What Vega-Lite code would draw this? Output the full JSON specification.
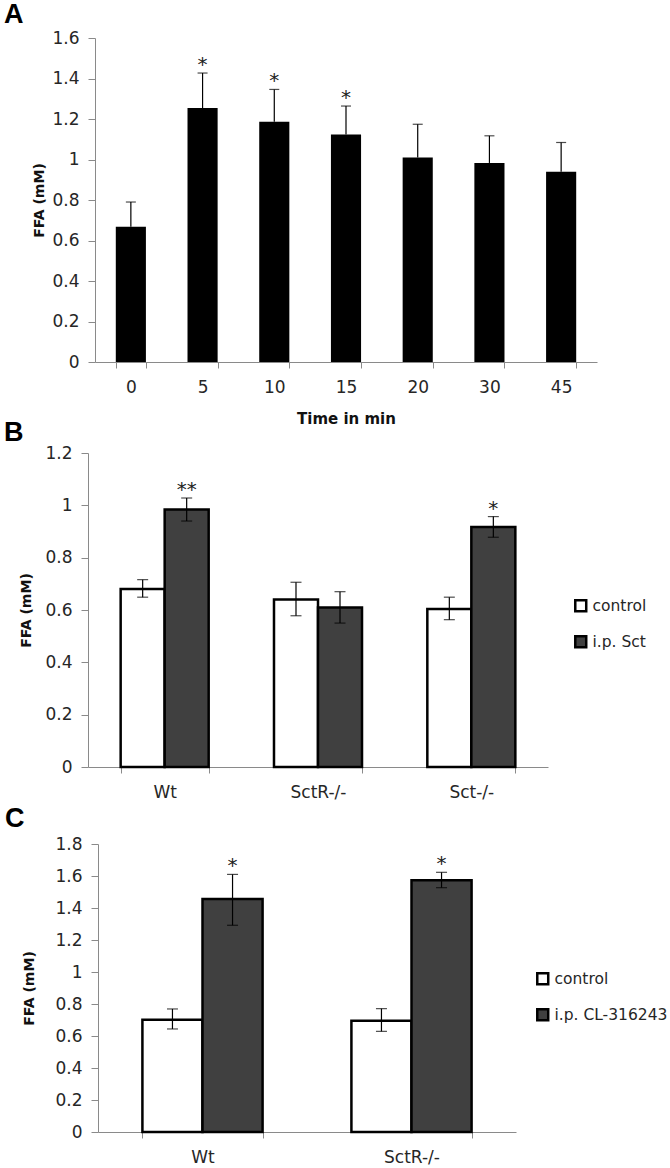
{
  "$schema": "https://vega.github.io/schema/vega-lite/v6.json",
  "padding": {"left": 4, "top": 1, "right": 0, "bottom": 0},
  "background": "white",
  "config": {
    "view": {"stroke": null},
    "font": "DejaVu Sans",
    "axis": {"domainColor": "#8a8a8a", "tickColor": "#8a8a8a", "labelColor": "#262626", "labelFont": "DejaVu Sans", "labelFontSize": 17, "titleFont": "DejaVu Sans", "titleFontWeight": "bold", "titleFontSize": 14, "titleColor": "#111111", "grid": false, "labelOverlap": false},
    "axisY": {"tickSize": 7, "labelPadding": 9},
    "axisX": {"tickSize": 6, "labelPadding": 11, "labelAngle": 0, "tickBand": "extent", "titleFontSize": 15},
    "title": {"font": "Liberation Sans", "fontWeight": "bold", "fontSize": 27, "anchor": "start", "frame": "group", "color": "black"},
    "legend": {"orient": "none", "symbolType": "square", "symbolSize": 120, "symbolStrokeColor": "black", "symbolStrokeWidth": 2.5, "labelFontSize": 15.5, "labelFont": "DejaVu Sans", "labelColor": "#262626", "rowPadding": 14, "labelOffset": 4, "labelLimit": 0}
  },
  "datasets": {
    "timecourse": [
      {"time": "0", "ffa": 0.668, "hi": 0.790, "sig": ""},
      {"time": "5", "ffa": 1.254, "hi": 1.427, "sig": "*"},
      {"time": "10", "ffa": 1.186, "hi": 1.346, "sig": "*"},
      {"time": "15", "ffa": 1.124, "hi": 1.264, "sig": "*"},
      {"time": "20", "ffa": 1.010, "hi": 1.174, "sig": ""},
      {"time": "30", "ffa": 0.983, "hi": 1.117, "sig": ""},
      {"time": "45", "ffa": 0.940, "hi": 1.084, "sig": ""}
    ],
    "secretin": [
      {"genotype": "Wt", "treatment": "control", "ffa": 0.680, "lo": 0.649, "hi": 0.716, "sig": ""},
      {"genotype": "Wt", "treatment": "i.p. Sct", "ffa": 0.984, "lo": 0.940, "hi": 1.028, "sig": "**"},
      {"genotype": "SctR-/-", "treatment": "control", "ffa": 0.640, "lo": 0.578, "hi": 0.706, "sig": ""},
      {"genotype": "SctR-/-", "treatment": "i.p. Sct", "ffa": 0.610, "lo": 0.550, "hi": 0.670, "sig": ""},
      {"genotype": "Sct-/-", "treatment": "control", "ffa": 0.604, "lo": 0.563, "hi": 0.649, "sig": ""},
      {"genotype": "Sct-/-", "treatment": "i.p. Sct", "ffa": 0.917, "lo": 0.878, "hi": 0.957, "sig": "*"}
    ],
    "beta3": [
      {"genotype": "Wt", "treatment": "control", "ffa": 0.702, "lo": 0.644, "hi": 0.769, "sig": ""},
      {"genotype": "Wt", "treatment": "i.p. CL-316243", "ffa": 1.456, "lo": 1.292, "hi": 1.610, "sig": "*"},
      {"genotype": "SctR-/-", "treatment": "control", "ffa": 0.696, "lo": 0.629, "hi": 0.771, "sig": ""},
      {"genotype": "SctR-/-", "treatment": "i.p. CL-316243", "ffa": 1.573, "lo": 1.527, "hi": 1.623, "sig": "*"}
    ]
  },
  "resolve": {"scale": {"x": "independent", "y": "independent", "fill": "independent", "xOffset": "independent"}},
  "columns": 1,
  "spacing": -7,
  "concat": [
    {
      "width": 509,
      "height": 324,
      "title": {"text": "A", "dx": -84, "offset": 0},
      "data": {"name": "timecourse"},
      "encoding": {
        "x": {"field": "time", "type": "nominal", "sort": null, "title": "Time in min", "scale": {"range": [7, 509], "paddingInner": 0.58, "paddingOuter": 0.29}, "axis": {"titlePadding": 16}}
      },
      "layer": [
        {"mark": {"type": "bar", "color": "black"},
         "encoding": {"y": {"field": "ffa", "type": "quantitative", "title": "FFA (mM)", "scale": {"domain": [0, 1.6], "nice": false}, "axis": {"values": [0, 0.2, 0.4, 0.6, 0.8, 1, 1.2, 1.4, 1.6], "format": "~g", "titlePadding": 5, "offset": -7}}}},
        {"mark": {"type": "rule", "color": "black", "strokeWidth": 1.2},
         "encoding": {"y": {"field": "ffa", "type": "quantitative", "title": "FFA (mM)"}, "y2": {"field": "hi"}}},
        {"mark": {"type": "tick", "color": "black", "thickness": 1.2, "size": 10},
         "encoding": {"y": {"field": "hi", "type": "quantitative", "title": "FFA (mM)"}}},
        {"mark": {"type": "text", "fontSize": 20, "baseline": "alphabetic", "dy": -2, "color": "#222222"},
         "encoding": {"y": {"field": "hi", "type": "quantitative", "title": "FFA (mM)"}, "text": {"field": "sig"}}}
      ]
    },
    {
      "columns": 1,
      "spacing": 5,
      "resolve": {"scale": {"x": "independent", "y": "independent", "fill": "independent", "xOffset": "independent"}},
      "concat": [
        {
          "width": 460,
          "height": 314,
          "title": {"text": "B", "dx": -84, "offset": -3},
          "data": {"name": "secretin"},
          "encoding": {
            "x": {"field": "genotype", "type": "nominal", "sort": null, "title": null, "scale": {"paddingInner": 0.426, "paddingOuter": 0.213}},
            "xOffset": {"field": "treatment", "type": "nominal", "sort": null, "scale": {"paddingInner": 0, "paddingOuter": 0}}
          },
          "layer": [
            {"mark": {"type": "bar", "stroke": "black", "strokeWidth": 2.5},
             "encoding": {
               "y": {"field": "ffa", "type": "quantitative", "title": "FFA (mM)", "scale": {"domain": [0, 1.2], "nice": false}, "axis": {"values": [0, 0.2, 0.4, 0.6, 0.8, 1, 1.2], "format": "~g", "titlePadding": 11}},
               "fill": {"field": "treatment", "type": "nominal", "sort": null, "scale": {"domain": ["control", "i.p. Sct"], "range": ["white", "#404040"]}, "legend": {"title": null, "legendX": 485, "legendY": 145}}
             }},
            {"mark": {"type": "rule", "color": "black", "strokeWidth": 1.2},
             "encoding": {"y": {"field": "lo", "type": "quantitative", "title": "FFA (mM)"}, "y2": {"field": "hi"}}},
            {"mark": {"type": "tick", "color": "black", "thickness": 1.2, "size": 11},
             "encoding": {"y": {"field": "lo", "type": "quantitative", "title": "FFA (mM)"}}},
            {"mark": {"type": "tick", "color": "black", "thickness": 1.2, "size": 11},
             "encoding": {"y": {"field": "hi", "type": "quantitative", "title": "FFA (mM)"}}},
            {"mark": {"type": "text", "fontSize": 20, "baseline": "alphabetic", "dy": -2, "color": "#222222"},
             "encoding": {"y": {"field": "hi", "type": "quantitative", "title": "FFA (mM)"}, "text": {"field": "sig"}}}
          ]
        },
        {
          "width": 428,
          "height": 288,
          "title": {"text": "C", "dx": -83, "offset": 2},
          "data": {"name": "beta3"},
          "encoding": {
            "x": {"field": "genotype", "type": "nominal", "sort": null, "title": null, "scale": {"range": [10, 428], "paddingInner": 0.425, "paddingOuter": 0.2125}},
            "xOffset": {"field": "treatment", "type": "nominal", "sort": null, "scale": {"paddingInner": 0, "paddingOuter": 0}}
          },
          "layer": [
            {"mark": {"type": "bar", "stroke": "black", "strokeWidth": 2.5},
             "encoding": {
               "y": {"field": "ffa", "type": "quantitative", "title": "FFA (mM)", "scale": {"domain": [0, 1.8], "nice": false}, "axis": {"values": [0, 0.2, 0.4, 0.6, 0.8, 1, 1.2, 1.4, 1.6, 1.8], "format": "~g", "titlePadding": 18, "offset": -10, "labelOverlap": false}},
               "fill": {"field": "treatment", "type": "nominal", "sort": null, "scale": {"domain": ["control", "i.p. CL-316243"], "range": ["white", "#404040"]}, "legend": {"title": null, "legendX": 447, "legendY": 127}}
             }},
            {"mark": {"type": "rule", "color": "black", "strokeWidth": 1.2},
             "encoding": {"y": {"field": "lo", "type": "quantitative", "title": "FFA (mM)", "axis": {"values": [0, 0.2, 0.4, 0.6, 0.8, 1, 1.2, 1.4, 1.6, 1.8], "labelOverlap": false}}, "y2": {"field": "hi"}}},
            {"mark": {"type": "tick", "color": "black", "thickness": 1.2, "size": 11},
             "encoding": {"y": {"field": "lo", "type": "quantitative", "title": "FFA (mM)", "axis": {"values": [0, 0.2, 0.4, 0.6, 0.8, 1, 1.2, 1.4, 1.6, 1.8], "labelOverlap": false}}}},
            {"mark": {"type": "tick", "color": "black", "thickness": 1.2, "size": 11},
             "encoding": {"y": {"field": "hi", "type": "quantitative", "title": "FFA (mM)", "axis": {"values": [0, 0.2, 0.4, 0.6, 0.8, 1, 1.2, 1.4, 1.6, 1.8], "labelOverlap": false}}}},
            {"mark": {"type": "text", "fontSize": 20, "baseline": "alphabetic", "dy": -2, "color": "#222222"},
             "encoding": {"y": {"field": "hi", "type": "quantitative", "title": "FFA (mM)", "axis": {"values": [0, 0.2, 0.4, 0.6, 0.8, 1, 1.2, 1.4, 1.6, 1.8], "labelOverlap": false}}, "text": {"field": "sig"}}}
          ]
        }
      ]
    }
  ]
}
